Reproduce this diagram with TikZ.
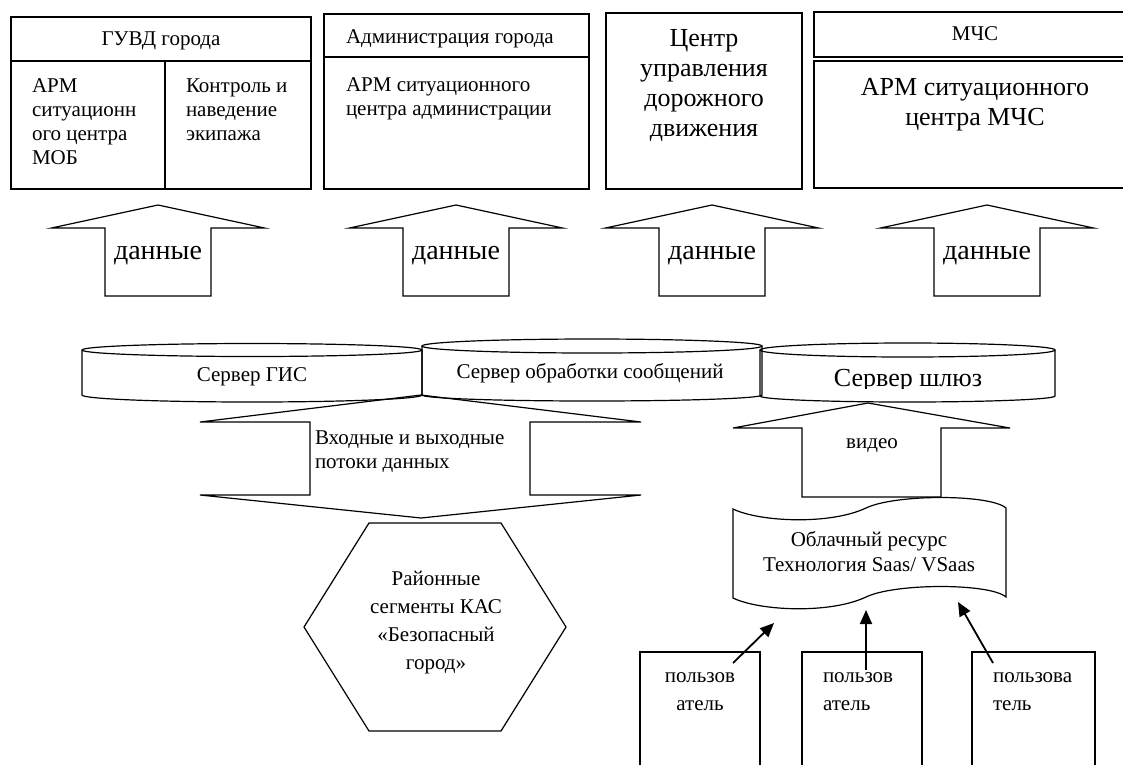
\documentclass[tikz,border=0pt]{standalone}
\usepackage{fontspec}
\setmainfont{Liberation Serif}
\usetikzlibrary{arrows.meta}

\tikzset{
  txt/.style={inner sep=0pt, outer sep=0pt},
  fs/.style={font=\fontsize{21}{24}\selectfont},
  fm/.style={font=\fontsize{26}{30}\selectfont},
  fl/.style={font=\fontsize{28}{32}\selectfont},
  shape line/.style={line width=1.2pt, line join=miter},
  ptr/.style={line width=1.8pt, -{Triangle[length=14pt,width=12pt]}},
  data arrow/.pic={
    \draw[shape line] (0,0) -- (106.5,23) -- (53,23) -- (53,91) -- (-53,91)
      -- (-53,23) -- (-106.5,23) -- cycle;
    \node[txt,fl] (-label) at (0,51) {данные};
  },
}

\begin{document}
\begin{tikzpicture}[x=1pt,y=-1pt]
\useasboundingbox (0,0) rectangle (1123,764);
\clip (0,0) rectangle (1123,764);

% ---- top row: receivers of data ----
% ГУВД
\draw[shape line] (11,17) rectangle (311,189);
\draw[shape line] (11,61) -- (311,61) (165,61) -- (165,189);
\node[txt,fs] (guvd) at (161,41) {ГУВД города};
\node[txt,fs,anchor=west,align=left] (armmob) at (32,121.5) {АРМ\\ситуационн\\ого центра\\МОБ};
\node[txt,fs,anchor=west,align=left] (ekip) at (186,110) {Контроль и\\наведение\\экипажа};

% Администрация
\draw[shape line] (324,14) rectangle (589,189);
\draw[shape line] (324,57) -- (589,57);
\node[txt,fs,anchor=west] (adm) at (346,39) {Администрация города};
\node[txt,fs,anchor=west,align=left] (armadm) at (346,99) {АРМ ситуационного\\центра администрации};

% Центр управления дорожного движения
\draw[shape line] (606,13) rectangle (802,189);
\node[txt,fm,align=center] (cudd) at (704,85) {Центр\\управления\\дорожного\\движения};

% МЧС
\draw[shape line] (814,12) rectangle (1136,57);
\draw[shape line] (814,61) rectangle (1136,188);
\node[txt,fs] (mchs) at (975,34) {МЧС};
\node[txt,fm,align=center] (armmchs) at (975,105) {АРМ ситуационного\\центра МЧС};

% ---- block arrows "данные" ----
\pic (d1) at (158,205) {data arrow};
\pic (d2) at (456,205) {data arrow};
\pic (d3) at (712,205) {data arrow};
\pic (d4) at (987,205) {data arrow};

% ---- servers ----
\draw[shape line] (82,350) -- (82,395) arc[start angle=180,end angle=360,x radius=170pt,y radius=7pt] -- (422,350);
\draw[shape line] (252,350) ellipse[x radius=170pt, y radius=6.5pt];
\node[txt,fs] (gis) at (252,377) {Сервер ГИС};

\draw[shape line] (422,346) -- (422,395) arc[start angle=180,end angle=360,x radius=170pt,y radius=6pt] -- (762,346);
\draw[shape line] (592,346) ellipse[x radius=170pt, y radius=7pt];
\node[txt,fs] (sms) at (590,373) {Сервер обработки сообщений};

\draw[shape line] (760,350) -- (760,396) arc[start angle=180,end angle=360,x radius=147.5pt,y radius=6pt] -- (1055,350);
\draw[shape line] (907.5,350) ellipse[x radius=147.5pt, y radius=7pt];
\begin{scope}
  \clip (760,340) rectangle (1055,388);
  \node[txt,fm] (gw) at (908,381) {Сервер шлюз};
\end{scope}

% ---- two-way data flow ----
\draw[shape line] (421,395) -- (641,422) -- (530,422) -- (530,495) -- (641,495)
  -- (421,518) -- (200,495) -- (310,495) -- (310,422) -- (200,422) -- cycle;
\node[txt,fs,anchor=west,align=left] (flows) at (315,452) {Входные и выходные\\потоки данных};

% ---- district segments ----
\draw[shape line] (369,523) -- (501,523) -- (566,627) -- (501,731) -- (369,731) -- (304,627) -- cycle;
\node[txt,font=\fontsize{21}{28}\selectfont,align=center] (kas) at (436,623)
  {Районные\\сегменты КАС\\«Безопасный\\город»};

% ---- cloud resource ----
\draw[shape line] (733,509) .. controls (760,522) and (830,525) .. (866,508)
  .. controls (895,494) and (990,494) .. (1006,508) -- (1006,597)
  .. controls (990,583) and (895,583) .. (866,597)
  .. controls (830,614) and (760,611) .. (733,598) -- cycle;
\node[txt,font=\fontsize{21}{25}\selectfont,align=center] (cloud) at (869,552)
  {Облачный ресурс\\Технология Saas/ VSaas};

% video arrow
\draw[shape line] (868,403) -- (1010,428) -- (941,428) -- (941,497) -- (802,497)
  -- (802,428) -- (733,428) -- cycle;
\node[txt,fs] (video) at (872,446) {видео};

% ---- users ----
\draw[shape line] (640,652) rectangle (760,780);
\draw[shape line] (802,652) rectangle (922,780);
\draw[shape line] (972,652) rectangle (1095,780);
\node[txt,font=\fontsize{21}{28}\selectfont,align=center] (u1) at (700,692) {пользов\\атель};
\node[txt,font=\fontsize{21}{28}\selectfont,align=left,anchor=west] (u2) at (823,692) {пользов\\атель};
\node[txt,font=\fontsize{21}{28}\selectfont,align=left,anchor=west] (u3) at (993,692) {пользова\\тель};

\coordinate (a1s) at (733,663); \coordinate (a1e) at (774,623);
\coordinate (a2s) at (866,670); \coordinate (a2e) at (866,610);
\coordinate (a3s) at (993,663); \coordinate (a3e) at (958,602);
\draw[ptr] (a1s) -- (a1e);
\draw[ptr] (a2s) -- (a2e);
\draw[ptr] (a3s) -- (a3e);
\end{tikzpicture}
\end{document}
